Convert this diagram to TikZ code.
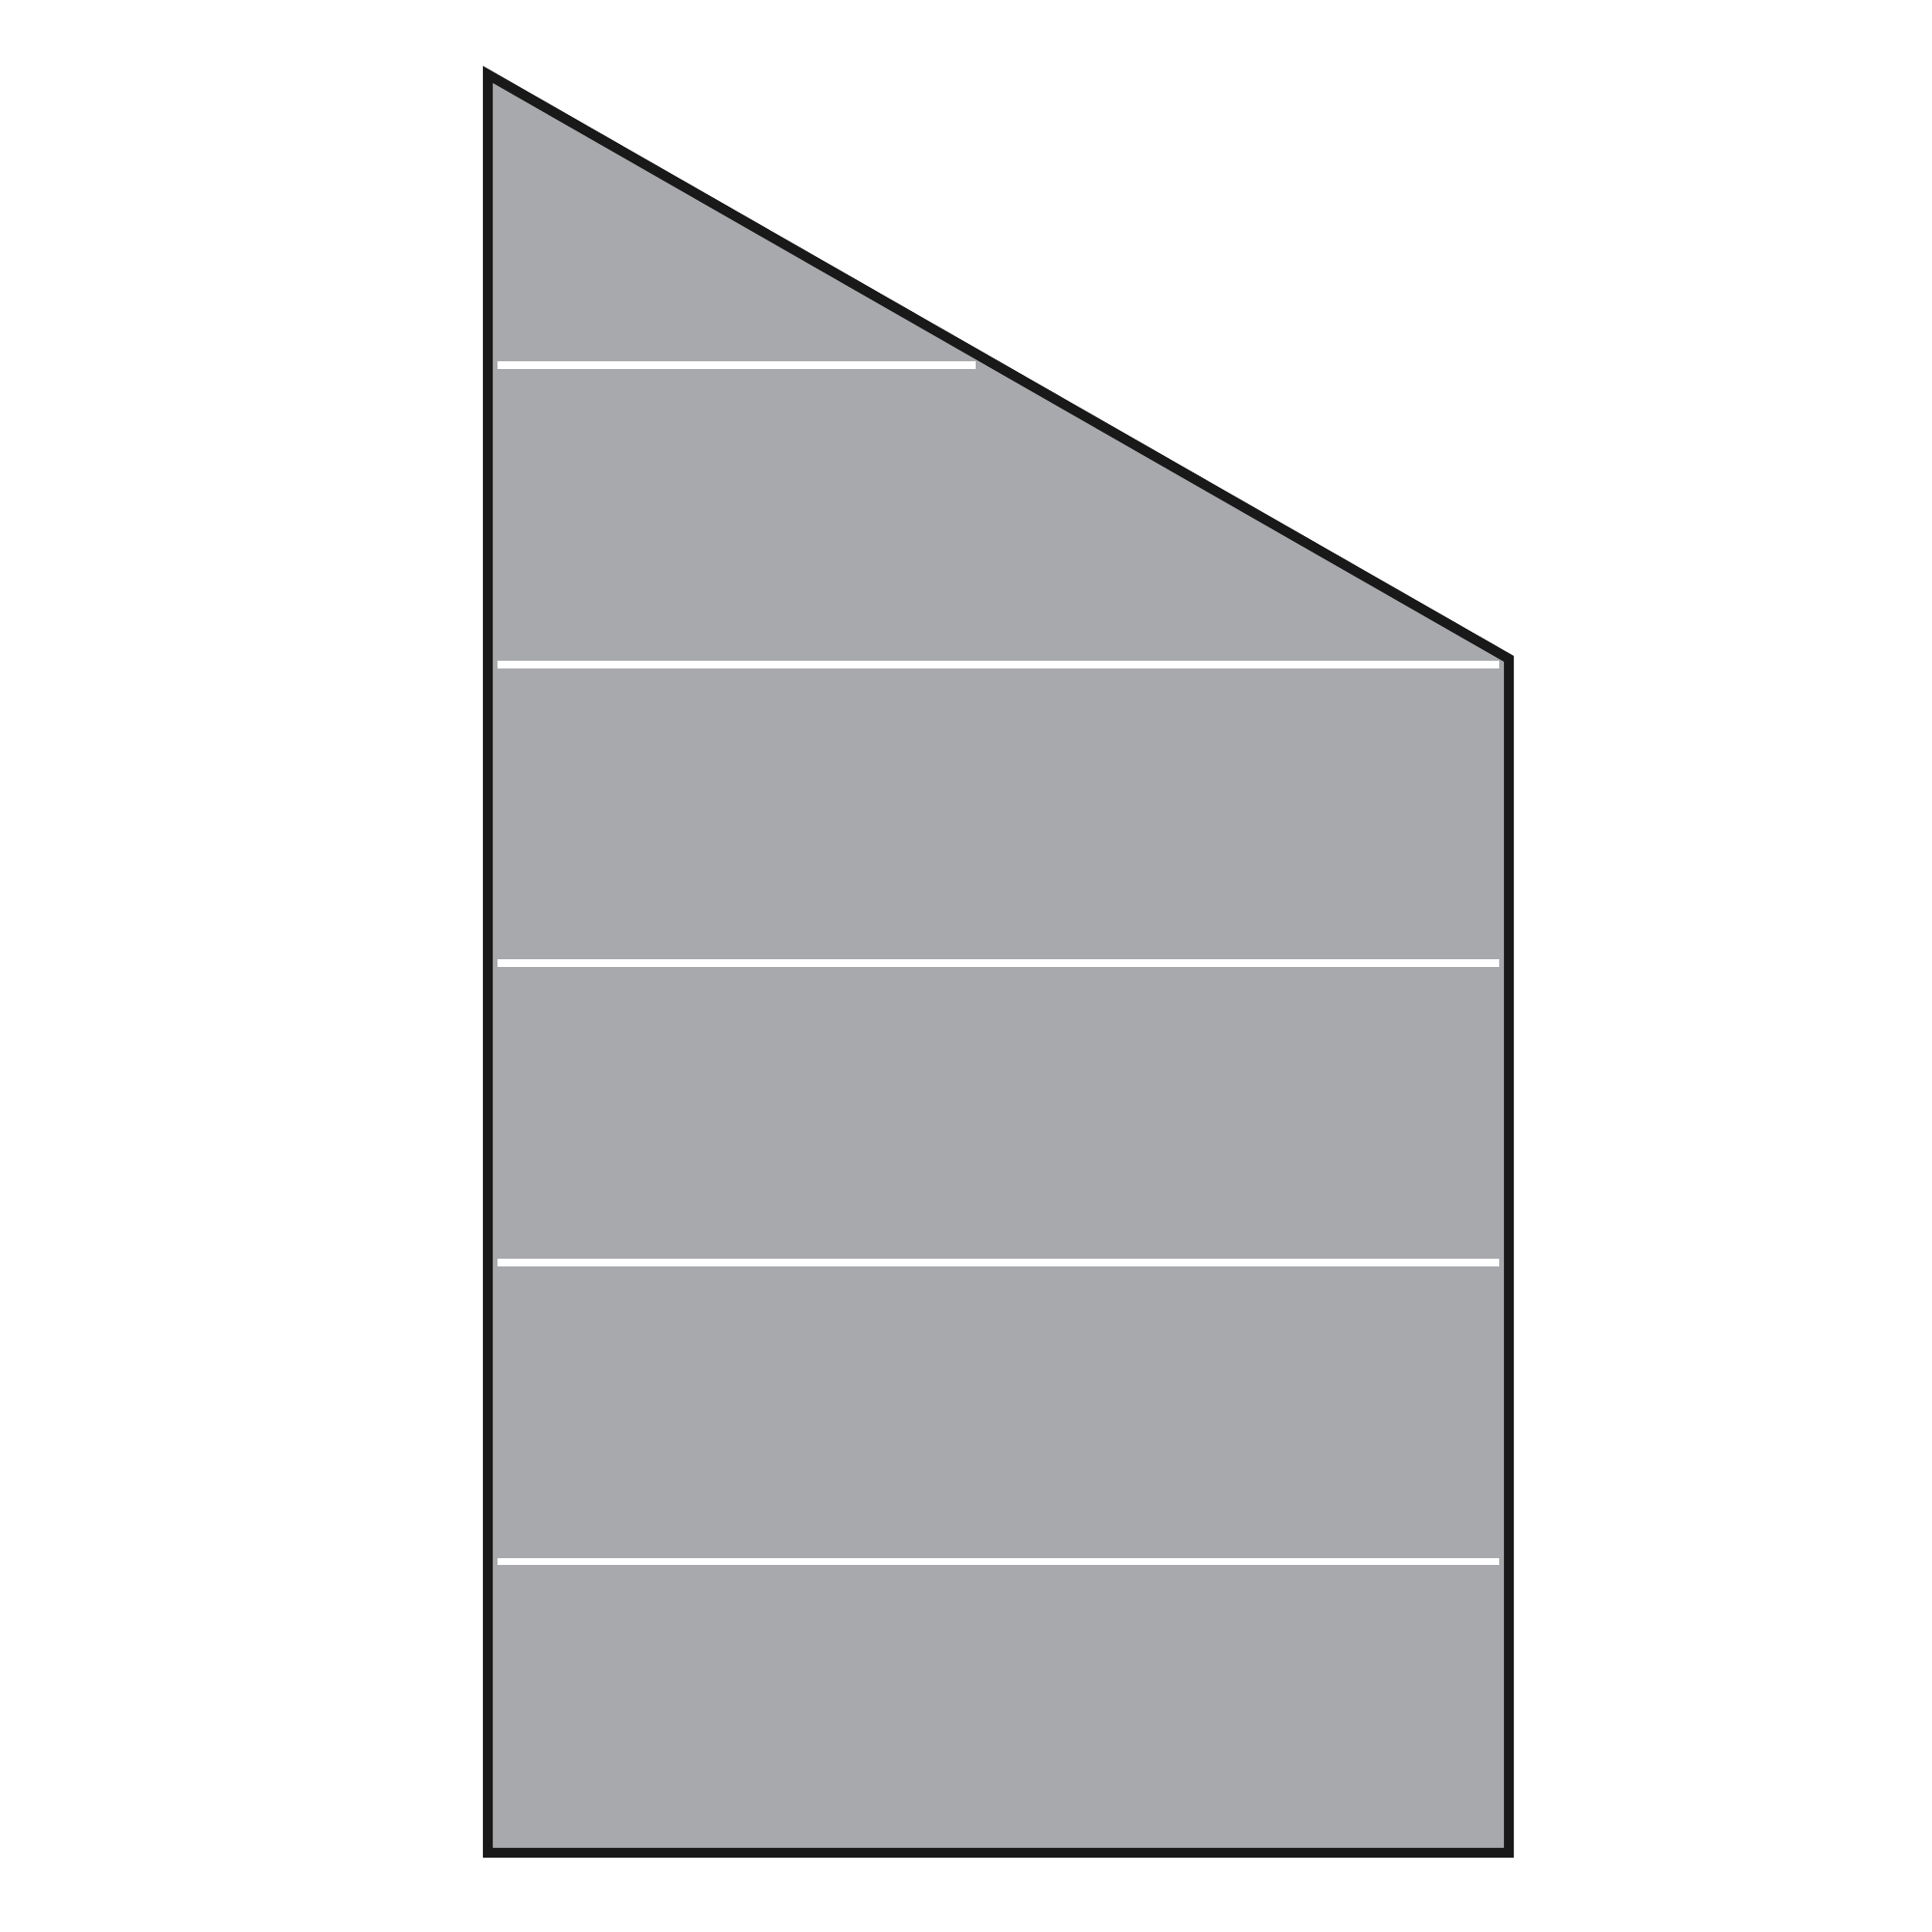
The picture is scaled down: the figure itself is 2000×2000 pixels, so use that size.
\documentclass[tikz,border=0pt]{standalone}
\definecolor{panel}{RGB}{168,169,172}
\tikzset{
  outline/.style={draw=black!90, line width=2.9pt, fill=panel, line join=miter},
  seam/.style={draw=white, line width=2pt}
}
\begin{document}
\begin{tikzpicture}[x=0.01cm,y=-0.01cm]
\useasboundingbox (0,0) rectangle (2000,2000);
\coordinate (tl) at (505,77);
\coordinate (tr) at (1562,682);
\coordinate (br) at (1562,1918);
\coordinate (bl) at (505,1918);
\draw[outline] (tl) -- (tr) -- (br) -- (bl) -- cycle;
\coordinate (s1a) at (515,378);  \coordinate (s1b) at (1010,378);
\coordinate (s2a) at (515,688);  \coordinate (s2b) at (1552,688);
\coordinate (s3a) at (515,997);  \coordinate (s3b) at (1552,997);
\coordinate (s4a) at (515,1307); \coordinate (s4b) at (1552,1307);
\coordinate (s5a) at (515,1616); \coordinate (s5b) at (1552,1616);
\draw[seam] (s1a) -- (s1b);
\draw[seam] (s2a) -- (s2b);
\draw[seam] (s3a) -- (s3b);
\draw[seam] (s4a) -- (s4b);
\draw[seam] (s5a) -- (s5b);
\end{tikzpicture}
\end{document}
